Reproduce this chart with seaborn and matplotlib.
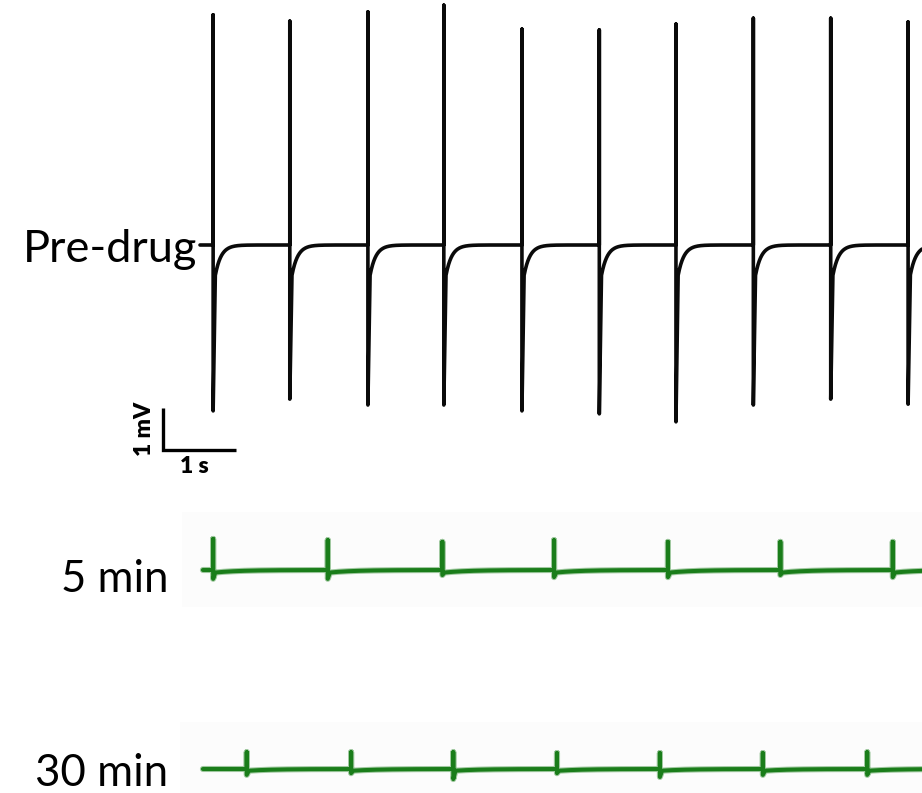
import numpy as np
import pandas as pd
import matplotlib
matplotlib.use("Agg")
import matplotlib.pyplot as plt
import seaborn as sns

# ---- recorded events (time in s, amplitude in mV relative to baseline) ----
pre_spike_t = [0.18, 1.23, 2.30, 3.34, 4.41, 5.47, 6.52, 7.58, 8.64, 9.70]
pre_spike_up = [5.48, 5.33, 5.55, 5.71, 5.14, 5.12, 5.26, 5.40, 5.40, 5.31]
pre_spike_down = [3.95, 3.67, 3.81, 3.81, 3.95, 4.02, 4.21, 3.81, 3.67, 3.79]

min5_spike_t = [0.18, 1.75, 3.32, 4.85, 6.41, 7.95, 9.49]
min5_spike_up = [0.74, 0.71, 0.67, 0.71, 0.67, 0.67, 0.67]
min5_spike_down = [0.21, 0.21, 0.12, 0.17, 0.17, 0.12, 0.17]

min30_spike_t = [0.64, 2.07, 3.47, 4.89, 6.30, 7.71, 9.14]
min30_spike_up = [0.40, 0.40, 0.40, 0.38, 0.38, 0.38, 0.40]
min30_spike_down = [0.14, 0.10, 0.24, 0.10, 0.19, 0.14, 0.14]

row_labels = ["Pre-drug", "5 min", "30 min"]
scale_labels = ["1 mV", "1 s"]

W, H = 922, 793
PX_S, PX_MV = 73.0, 42.0   # pixels per second / per millivolt
X0 = 200.0                 # pixel column of t = 0


def build_trace(start, stop, times, ups, downs, dip, tau):
    """Baseline with spikes; after each spike the trace dips and relaxes back."""
    t_pts, v_pts = [start], [0.0]
    for i, (ts, up, dn) in enumerate(zip(times, ups, downs)):
        t_pts += [ts, ts, ts]
        v_pts += [0.0, up, -dn]
        nxt = times[i + 1] if i + 1 < len(times) else stop
        tt = np.linspace(ts + 0.03, nxt, 120)
        vv = -dip * np.exp(-(tt - ts - 0.03) / tau)
        t_pts += list(tt)
        v_pts += list(vv)
    return pd.DataFrame({"t": t_pts, "v": v_pts})


def px_rect(x0, y0, x1, y1):
    return [x0 / W, 1 - y1 / H, (x1 - x0) / W, (y1 - y0) / H]


def strip(ax):
    for s in ax.spines.values():
        s.set_visible(False)
    ax.set_xticks([])
    ax.set_yticks([])
    ax.set_xlabel("")
    ax.set_ylabel("")


sns.set_theme(style="white")
plt.rcParams["font.family"] = ["Lato", "DejaVu Sans"]

fig = plt.figure(figsize=(W / 100, H / 100), dpi=100)
fig.patch.set_facecolor("white")

t_stop = (W - X0) / PX_S

# ---- pre-drug trace ----
ax_pre = fig.add_axes(px_rect(0, 0, W, 490))
pre = build_trace(0.0, t_stop, pre_spike_t, pre_spike_up, pre_spike_down,
                  dip=0.72, tau=0.08)
sns.lineplot(data=pre, x="t", y="v", sort=False, estimator=None,
             color="#0a0a0a", linewidth=2.6, ax=ax_pre)
ax_pre.set_xlim(-X0 / PX_S, t_stop)
ax_pre.set_ylim(-(490 - 245) / PX_MV, 245 / PX_MV)
strip(ax_pre)
ax_pre.patch.set_alpha(0)

# scale bar: 1 mV vertical, 1 s horizontal
sb_t = (163 - X0) / PX_S
sb_v = (245 - 450) / PX_MV
ax_pre.plot([sb_t, sb_t, sb_t + 1.0], [sb_v + 1.0, sb_v, sb_v],
            color="black", linewidth=2.4, solid_capstyle="butt",
            solid_joinstyle="miter")

# ---- 5 min trace ----
green = "#1a7d1a"
ax5 = fig.add_axes(px_rect(182, 512, W, 607))
m5 = build_trace(0.04, t_stop, min5_spike_t, min5_spike_up, min5_spike_down,
                 dip=0.06, tau=0.35)
sns.lineplot(data=m5, x="t", y="v", sort=False, estimator=None,
             color=green, linewidth=4.4, alpha=0.4, ax=ax5)
sns.lineplot(data=m5, x="t", y="v", sort=False, estimator=None,
             color=green, linewidth=2.9, ax=ax5)
ax5.set_xlim((182 - X0) / PX_S, t_stop)
ax5.set_ylim((570 - 607) / PX_MV, (570 - 512) / PX_MV)
ax5.set_facecolor("#fcfcfc")
strip(ax5)

# ---- 30 min trace ----
ax30 = fig.add_axes(px_rect(180, 722, W, H))
m30 = build_trace(0.04, t_stop, min30_spike_t, min30_spike_up,
                  min30_spike_down, dip=0.04, tau=0.35)
sns.lineplot(data=m30, x="t", y="v", sort=False, estimator=None,
             color=green, linewidth=4.4, alpha=0.4, ax=ax30)
sns.lineplot(data=m30, x="t", y="v", sort=False, estimator=None,
             color=green, linewidth=2.9, ax=ax30)
ax30.set_xlim((180 - X0) / PX_S, t_stop)
ax30.set_ylim((769 - H) / PX_MV, (769 - 722) / PX_MV)
ax30.set_facecolor("#fcfcfc")
strip(ax30)

# ---- labels ----
fig.text(197 / W, 1 - 245 / H, row_labels[0], ha="right",
         va="center_baseline", fontsize=32.5, color="black")
fig.text(168 / W, 1 - 576 / H, row_labels[1], ha="right",
         va="center_baseline", fontsize=31.5, color="black")
fig.text(168 / W, 1 - 769 / H, row_labels[2], ha="right",
         va="center_baseline", fontsize=31.5, color="black")

fig.text(144 / W, 1 - 429 / H, scale_labels[0], ha="center", va="center",
         rotation=90, fontsize=16.5, fontweight="heavy", color="black")
fig.text(194 / W, 1 - 467 / H, scale_labels[1], ha="center", va="center",
         fontsize=16.5, fontweight="heavy", color="black")

fig.savefig("out.png", dpi=100, facecolor="white")
